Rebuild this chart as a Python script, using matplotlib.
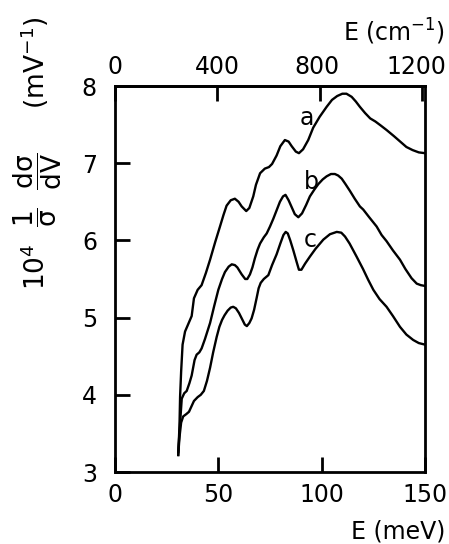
import matplotlib
matplotlib.use("Agg")
import matplotlib.pyplot as plt
from matplotlib.transforms import ScaledTranslation

plt.rcParams['font.family'] = ['DejaVu Sans']
plt.rcParams['mathtext.fontset'] = 'dejavusans'

# ---- data (E in meV, 10^4 (1/sigma) dsigma/dV in mV^-1) ----
xa = [30.6, 31.2, 31.5, 32.0, 32.7, 33.9, 35.5, 37.1, 38.2, 40.0, 41.9, 44.0, 46.0, 48.5,
      50.8, 52.5, 54.0, 56.0, 58.0, 59.8, 61.3, 63.5, 65.0, 66.9, 68.2, 70.2, 72.5, 74.5,
      76.0, 78.2, 80.0, 82.2, 84.0, 85.5, 87.5, 89.0, 91.0, 93.5, 95.9, 99.0, 102.4, 105.0,
      107.5, 110.0, 112.0, 114.5, 116.5, 118.5, 121.0, 123.5, 126.0, 128.5, 131.4, 135.0,
      138.0, 141.0, 144.0, 147.0, 150.0]
ya = [3.22, 3.60, 3.98, 4.30, 4.65, 4.82, 4.92, 5.02, 5.25, 5.36, 5.42, 5.58, 5.75, 5.98,
      6.18, 6.33, 6.45, 6.52, 6.54, 6.50, 6.44, 6.38, 6.42, 6.57, 6.72, 6.87, 6.93, 6.95,
      6.99, 7.10, 7.22, 7.30, 7.28, 7.22, 7.15, 7.13, 7.18, 7.30, 7.46, 7.60, 7.73, 7.82,
      7.87, 7.90, 7.90, 7.86, 7.80, 7.73, 7.65, 7.58, 7.54, 7.49, 7.43, 7.35,
      7.28, 7.21, 7.17, 7.14, 7.13]

xb = [30.6, 31.4, 32.3, 33.5, 34.7, 36.0, 37.1, 38.5, 39.5, 40.8, 41.9, 43.5, 46.0, 48.0,
      50.0, 51.8, 53.2, 55.0, 56.5, 58.0, 59.2, 61.3, 63.0, 64.0, 65.3, 66.5, 67.7, 69.0,
      70.2, 72.0, 73.4, 75.0, 76.6, 78.2, 79.8, 81.3, 82.5, 84.0, 85.5, 87.0, 88.7, 90.5,
      92.5, 94.3, 96.5, 98.4, 100.5, 102.4, 104.5, 106.4, 108.0, 109.7, 111.5, 113.7, 116.0,
      118.5, 120.1, 123.0, 126.6, 129.0, 131.4, 134.5, 137.9, 140.5, 143.5, 146.0, 148.0, 150.0]
yb = [3.26, 3.60, 3.95, 4.02, 4.05, 4.15, 4.25, 4.45, 4.52, 4.55, 4.60, 4.72, 4.93, 5.15,
      5.36, 5.50, 5.59, 5.66, 5.69, 5.68, 5.65, 5.56, 5.50, 5.50, 5.56, 5.65, 5.77, 5.88,
      5.96, 6.04, 6.09, 6.18, 6.28, 6.39, 6.50, 6.57, 6.59, 6.52, 6.43, 6.34, 6.30, 6.35,
      6.46, 6.57, 6.66, 6.73, 6.79, 6.83, 6.86, 6.86, 6.84, 6.80, 6.73, 6.64, 6.54,
      6.44, 6.40, 6.30, 6.18, 6.07, 5.99, 5.87, 5.75, 5.63, 5.51, 5.44, 5.42, 5.41]

xc = [30.6, 31.2, 32.0, 33.0, 34.5, 35.8, 37.0, 38.2, 40.0, 41.5, 43.0, 44.5, 46.0, 47.5,
      49.2, 50.5, 51.8, 53.0, 54.5, 56.0, 57.2, 58.5, 60.0, 61.5, 62.8, 63.8, 65.0, 66.1,
      67.3, 68.5, 69.5, 70.5, 72.0, 74.2, 76.0, 78.2, 80.0, 81.5, 82.6, 83.6, 84.8, 86.3,
      87.9, 89.0, 90.2, 92.0, 94.3, 97.0, 100.8, 104.0, 107.3, 109.5, 111.3, 113.5, 116.9,
      120.0, 122.5, 125.0, 128.0, 131.4, 134.5, 137.9, 141.0, 144.3, 147.0, 150.0]
yc = [3.22, 3.45, 3.64, 3.72, 3.75, 3.78, 3.85, 3.92, 3.97, 4.00, 4.05, 4.18, 4.35, 4.55,
      4.75, 4.88, 4.97, 5.03, 5.09, 5.13, 5.14, 5.12, 5.06, 4.98, 4.91, 4.89, 4.93, 4.99,
      5.10, 5.25, 5.38, 5.45, 5.50, 5.55, 5.68, 5.82, 5.96, 6.07, 6.11, 6.09, 6.00, 5.87,
      5.72, 5.62, 5.62, 5.70, 5.79, 5.89, 6.01, 6.08, 6.11, 6.10, 6.05, 5.96, 5.79,
      5.63, 5.49, 5.36, 5.24, 5.14, 5.02, 4.88, 4.78, 4.71, 4.67, 4.65]

labels = ['a', 'b', 'c']
label_pos = [(92.7, 7.58), (95.2, 6.76), (94.3, 6.00)]

x_ticks = [0, 50, 100, 150]
y_ticks = [3, 4, 5, 6, 7, 8]
top_ticks = [0, 400, 800, 1200]
MEV_TO_CM = 8.0655

fig = plt.figure(figsize=(4.49, 5.44), dpi=100)
ax = fig.add_axes([115/449, 72/544, 310/449, 386/544])

for xs, ys in [(xa, ya), (xb, yb), (xc, yc)]:
    ax.plot(xs, ys, color='black', lw=1.7, solid_joinstyle='round')

for lab, (lx, ly) in zip(labels, label_pos):
    ax.text(lx, ly, lab, fontsize=17, ha='center', va='center')

ax.set_xlim(0, 150)
ax.set_ylim(3, 8)
ax.set_xticks(x_ticks)
ax.set_yticks(y_ticks)
ax.tick_params(axis='x', direction='in', length=11, width=2, labelsize=17, pad=8)
ax.tick_params(axis='y', direction='in', length=11, width=2, labelsize=17, pad=13)
for s in ax.spines.values():
    s.set_linewidth(2)

sec = ax.secondary_xaxis('top', functions=(lambda e: e * MEV_TO_CM, lambda c: c / MEV_TO_CM))
sec.set_xticks(top_ticks)
sec.tick_params(axis='x', direction='in', length=11, width=2, labelsize=17, pad=5)
sec.spines['top'].set_linewidth(2)
fig.canvas.draw()
tl = sec.xaxis.get_majorticklabels()
tl[-1].set_transform(tl[-1].get_transform() + ScaledTranslation(-6/100, 0, fig.dpi_scale_trans))
tl[-2].set_transform(tl[-2].get_transform() + ScaledTranslation(-3/100, 0, fig.dpi_scale_trans))

fig.text(445/449, 1 - 531/544, 'E (meV)', fontsize=17, ha='right', va='center')
fig.text(445/449, 1 - 32/544, 'E (cm$^{-1}$)', fontsize=17, ha='right', va='center')
fig.text(38/449, 1 - 153/544,
         r'$\mathrm{10^4}\ \ \dfrac{\mathrm{1}}{\mathrm{\sigma}}\ \ '
         r'\dfrac{\mathrm{d\sigma}}{\mathrm{dV}}\ \ \ \ \ \mathrm{(mV^{-1})}$',
         fontsize=19, rotation=90, ha='center', va='center')

fig.savefig('out.png', dpi=100)
